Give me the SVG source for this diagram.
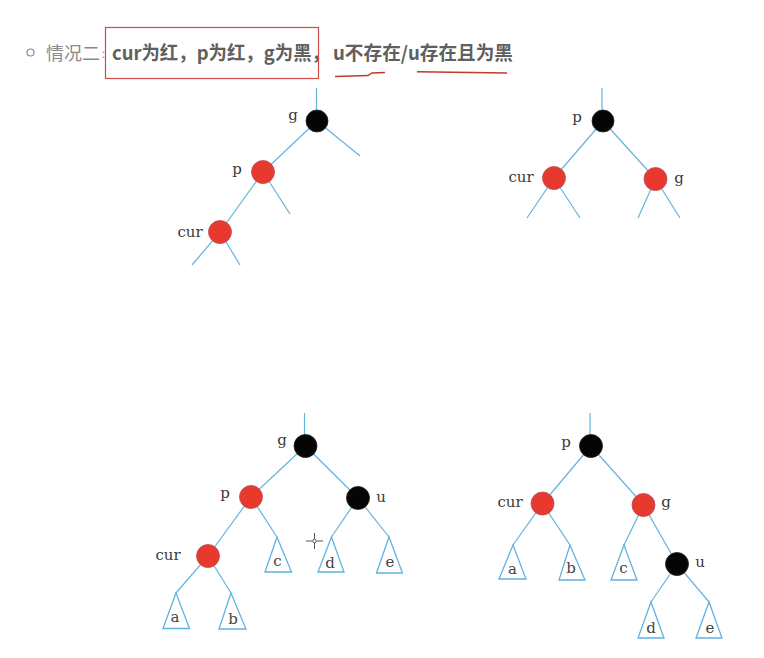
<svg xmlns="http://www.w3.org/2000/svg" width="764" height="658" viewBox="0 0 764 658">
<style>
.e{stroke:#62b4e0;stroke-width:1.2;fill:none}
.tri{stroke:#5fb2e0;stroke-width:1.3;fill:#fff}
.red{fill:#e8392f;stroke:#b8505a;stroke-width:0.8}
.blk{fill:#050505;stroke:#222;stroke-width:0.8}
.lb{font-family:"DejaVu Serif","Liberation Serif",serif;font-size:15px;fill:#3a3a3a;text-anchor:middle}
.sub{font-family:"DejaVu Serif","Liberation Serif",serif;font-size:15px;fill:#444;text-anchor:middle}
.h1{font-family:"Noto Sans CJK SC","Noto Sans",sans-serif;font-size:18px;fill:#8a8a8a}
.h2{font-family:"Noto Sans CJK SC","Noto Sans",sans-serif;font-size:19px;font-weight:bold;fill:#606060}
.ul{stroke:#c0392b;stroke-width:1.4;fill:none}
</style>
<rect width="764" height="658" fill="#ffffff"/>
<g id="header">
<circle cx="30.5" cy="52.5" r="3.5" fill="none" stroke="#8a8a8a" stroke-width="1.2"/>
<text class="h1" x="46" y="60">情况二</text>
<text class="h1" x="101" y="58" style="font-size:10px">：</text>
<text class="h2" x="112" y="60" textLength="218" lengthAdjust="spacingAndGlyphs">cur为红，p为红，g为黑，</text>
<text class="h2" x="333" y="60" textLength="180" lengthAdjust="spacingAndGlyphs">u不存在/u存在且为黑</text>
<rect x="105.5" y="27.5" width="213" height="51" fill="none" stroke="#d24b4b" stroke-width="1.2"/>
<path class="ul" d="M335,76.5 L368,75.5 L372,73 L385,72.5"/>
<path class="ul" d="M417,71.7 Q460,72.5 507,73"/>
</g>
<g id="connectors">
<line class="e" x1="316.5" y1="88" x2="316.5" y2="110"/>
<line class="e" x1="317" y1="121" x2="263" y2="172"/>
<line class="e" x1="317" y1="121" x2="360" y2="156"/>
<line class="e" x1="263" y1="172" x2="290" y2="214"/>
<line class="e" x1="263" y1="172" x2="220" y2="232"/>
<line class="e" x1="220" y1="232" x2="192" y2="265"/>
<line class="e" x1="220" y1="232" x2="240" y2="265"/>
<line class="e" x1="602" y1="88" x2="602" y2="110"/>
<line class="e" x1="603" y1="121" x2="554" y2="178"/>
<line class="e" x1="603" y1="121" x2="655.5" y2="179"/>
<line class="e" x1="554" y1="178" x2="527" y2="218"/>
<line class="e" x1="554" y1="178" x2="580" y2="218"/>
<line class="e" x1="655.5" y1="179" x2="638" y2="218"/>
<line class="e" x1="655.5" y1="179" x2="680" y2="218"/>
<line class="e" x1="304.5" y1="413" x2="304.5" y2="435"/>
<line class="e" x1="305.5" y1="446" x2="251" y2="497"/>
<line class="e" x1="305.5" y1="446" x2="358" y2="498"/>
<line class="e" x1="251" y1="497" x2="208" y2="556"/>
<line class="e" x1="251" y1="497" x2="277" y2="537"/>
<line class="e" x1="358" y1="498" x2="331.5" y2="537"/>
<line class="e" x1="358" y1="498" x2="389" y2="537"/>
<line class="e" x1="208" y1="556" x2="176" y2="593"/>
<line class="e" x1="208" y1="556" x2="231" y2="593"/>
<line class="e" x1="590" y1="413" x2="590" y2="434"/>
<line class="e" x1="591" y1="446" x2="542.5" y2="503.5"/>
<line class="e" x1="591" y1="446" x2="643.5" y2="505"/>
<line class="e" x1="542.5" y1="503.5" x2="513" y2="545"/>
<line class="e" x1="542.5" y1="503.5" x2="570" y2="545"/>
<line class="e" x1="643.5" y1="505" x2="624" y2="545"/>
<line class="e" x1="643.5" y1="505" x2="677" y2="564"/>
<line class="e" x1="677" y1="564" x2="651" y2="602"/>
<line class="e" x1="677" y1="564" x2="709" y2="602"/>
</g>
<g id="t1-g"><circle class="blk" cx="317" cy="121" r="11"/><text class="lb" x="293" y="120">g</text></g>
<g id="t1-p"><circle class="red" cx="263" cy="172" r="11.5"/><text class="lb" x="237" y="174">p</text></g>
<g id="t1-cur"><circle class="red" cx="220" cy="232" r="11.5"/><text class="lb" x="190" y="237">cur</text></g>
<g id="t2-p"><circle class="blk" cx="603" cy="121" r="11"/><text class="lb" x="577" y="122">p</text></g>
<g id="t2-cur"><circle class="red" cx="554" cy="178" r="11.5"/><text class="lb" x="521" y="182">cur</text></g>
<g id="t2-g"><circle class="red" cx="655.5" cy="179" r="11.5"/><text class="lb" x="679" y="183">g</text></g>
<g id="t3-g"><circle class="blk" cx="305.5" cy="446" r="11.5"/><text class="lb" x="282" y="445">g</text></g>
<g id="t3-p"><circle class="red" cx="251" cy="497" r="11.5"/><text class="lb" x="225" y="498">p</text></g>
<g id="t3-u"><circle class="blk" cx="358" cy="498" r="11.5"/><text class="lb" x="381" y="502">u</text></g>
<g id="t3-cur"><circle class="red" cx="208" cy="556" r="11.5"/><text class="lb" x="168" y="560">cur</text></g>
<g id="t3-a"><polygon class="tri" points="176,593 163,628.5 189.5,628.5"/><text class="sub" x="175" y="622">a</text></g>
<g id="t3-b"><polygon class="tri" points="231,593 219,629 246,629"/><text class="sub" x="233" y="624">b</text></g>
<g id="t3-c"><polygon class="tri" points="277,537 265,572 291.5,572"/><text class="sub" x="277.5" y="566">c</text></g>
<g id="t3-d"><polygon class="tri" points="331.5,537 318,572 344,572"/><text class="sub" x="330" y="568">d</text></g>
<g id="t3-e"><polygon class="tri" points="389,537 376.5,573 402.5,573"/><text class="sub" x="390" y="567">e</text></g>
<g id="t4-p"><circle class="blk" cx="591" cy="446" r="11.5"/><text class="lb" x="566" y="447">p</text></g>
<g id="t4-cur"><circle class="red" cx="542.5" cy="503.5" r="11.5"/><text class="lb" x="510" y="507">cur</text></g>
<g id="t4-g"><circle class="red" cx="643.5" cy="505" r="11.5"/><text class="lb" x="666" y="507">g</text></g>
<g id="t4-u"><circle class="blk" cx="677" cy="564" r="11.5"/><text class="lb" x="700" y="567">u</text></g>
<g id="t4-a"><polygon class="tri" points="513,545 499,579 526,579"/><text class="sub" x="512.5" y="574">a</text></g>
<g id="t4-b"><polygon class="tri" points="570,545 559,580 585,580"/><text class="sub" x="571" y="573">b</text></g>
<g id="t4-c"><polygon class="tri" points="624,545 611,580 637,580"/><text class="sub" x="623.5" y="573">c</text></g>
<g id="t4-d"><polygon class="tri" points="651,602 638,638 664,638"/><text class="sub" x="651" y="633">d</text></g>
<g id="t4-e"><polygon class="tri" points="709,602 696,638 722,638"/><text class="sub" x="710" y="633">e</text></g>
<g id="cursor" stroke="#555" stroke-width="1" fill="none">
<line x1="306" y1="541" x2="312" y2="541"/><line x1="317" y1="541" x2="323" y2="541"/>
<line x1="314.5" y1="533" x2="314.5" y2="539"/><line x1="314.5" y1="543" x2="314.5" y2="549"/>
<circle cx="314.5" cy="541" r="1.8"/>
</g>
</svg>
